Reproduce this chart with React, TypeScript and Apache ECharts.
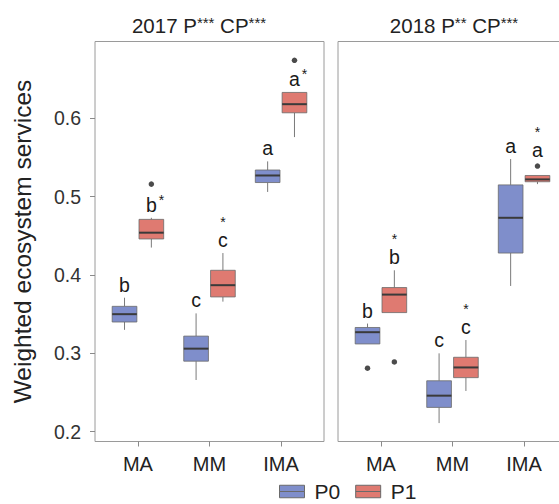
import React, { useEffect, useRef } from 'react';
import * as echarts from 'echarts';

const categories = ['MA', 'MM', 'IMA'];
const groups = ['P0', 'P1'];
const panelTitles = ['2017 P{s|***} CP{s|***}', '2018 P{s|**} CP{s|***}'];
const yAxisTitle = 'Weighted ecosystem services';
const yTicks = [0.2, 0.3, 0.4, 0.5, 0.6];

// [min, Q1, median, Q3, max] per category (MA, MM, IMA)
const box2017P0 = [
  [0.330, 0.340, 0.350, 0.360, 0.371],
  [0.266, 0.290, 0.306, 0.322, 0.351],
  [0.506, 0.518, 0.527, 0.534, 0.545],
];
const box2017P1 = [
  [0.435, 0.446, 0.454, 0.471, 0.473],
  [0.366, 0.372, 0.387, 0.406, 0.428],
  [0.576, 0.607, 0.618, 0.633, 0.633],
];
const box2018P0 = [
  [0.312, 0.312, 0.327, 0.333, 0.338],
  [0.211, 0.231, 0.246, 0.265, 0.300],
  [0.386, 0.428, 0.473, 0.515, 0.548],
];
const box2018P1 = [
  [0.352, 0.352, 0.375, 0.384, 0.406],
  [0.252, 0.269, 0.282, 0.295, 0.317],
  [0.516, 0.519, 0.522, 0.527, 0.527],
];

// outliers: [category, value]
const out2017P0: [string, number][] = [];
const out2017P1: [string, number][] = [['MA', 0.516], ['IMA', 0.674]];
const out2018P0: [string, number][] = [['MA', 0.281]];
const out2018P1: [string, number][] = [['MA', 0.289], ['IMA', 0.539]];

// significance letters and star placement
const letters2017P0 = ['b', 'c', 'a'];
const letters2017P1 = ['b', 'c', 'a'];
const stars2017P0 = ['', '', ''];
const stars2017P1 = ['sup', 'above', 'sup'];
const letters2018P0 = ['b', 'c', 'a'];
const letters2018P1 = ['b', 'c', 'a'];
const stars2018P0 = ['', '', ''];
const stars2018P1 = ['above', 'above', 'above'];

const FONT = '"Liberation Sans", Arial, Helvetica, sans-serif';
const COLORS = ['#7f8ecb', '#df7a71'];
const OFFSET = 0.1875;
const BOX_W = 0.345;
const Y_MIN = 0.1875;
const Y_MAX = 0.698;

const panels = [
  { title: panelTitles[0], boxes: [box2017P0, box2017P1], outs: [out2017P0, out2017P1], letters: [letters2017P0, letters2017P1], stars: [stars2017P0, stars2017P1] },
  { title: panelTitles[1], boxes: [box2018P0, box2018P1], outs: [out2018P0, out2018P1], letters: [letters2018P0, letters2018P1], stars: [stars2018P0, stars2018P1] },
];

function makeRender(offset: number, fill: string, letters: string[], stars: string[], outs: [string, number][]) {
  return (params: any, api: any) => {
    const idx = params.dataIndex;
    const x = api.value(0) + offset;
    const vals = [1, 2, 3, 4, 5].map((d) => api.value(d));
    const pts = vals.map((v) => api.coord([x, v]));
    const cx = pts[0][0];
    const w = api.size([BOX_W, 0])[0];
    const [yMin, yQ1, yMed, yQ3, yMax] = pts.map((p: number[]) => p[1]);
    let anchor = yMax;
    let gap = 13;
    outs
      .filter((o) => o[0] === categories[idx])
      .forEach((o) => {
        const py = api.coord([x, o[1]])[1];
        if (py < yMax && yMax - py < 15) {
          anchor = py;
          gap = 16;
        }
      });
    const ly = anchor - gap;
    const children: any[] = [
      { type: 'line', shape: { x1: cx, y1: yMax, x2: cx, y2: yQ3 }, style: { stroke: '#7a7a7a', lineWidth: 1 } },
      { type: 'line', shape: { x1: cx, y1: yQ1, x2: cx, y2: yMin }, style: { stroke: '#7a7a7a', lineWidth: 1 } },
      { type: 'rect', shape: { x: cx - w / 2, y: yQ3, width: w, height: yQ1 - yQ3 }, style: { fill, stroke: '#6a6a6a', lineWidth: 0.8 } },
      { type: 'line', shape: { x1: cx - w / 2, y1: yMed, x2: cx + w / 2, y2: yMed }, style: { stroke: '#3a3a3a', lineWidth: 2 } },
      { type: 'text', x: cx, y: ly, style: { text: letters[idx], fill: '#1a1a1a', fontSize: 19.5, fontFamily: FONT, align: 'center', verticalAlign: 'middle' } },
    ];
    if (stars[idx] === 'sup') {
      children.push({ type: 'text', x: cx + 10, y: ly - 5, style: { text: '*', fill: '#1a1a1a', fontSize: 14, fontFamily: FONT, align: 'center', verticalAlign: 'middle' } });
    } else if (stars[idx] === 'above') {
      children.push({ type: 'text', x: cx, y: ly - 18, style: { text: '*', fill: '#1a1a1a', fontSize: 14, fontFamily: FONT, align: 'center', verticalAlign: 'middle' } });
    }
    return { type: 'group', children };
  };
}

export default function App() {
  const ref = useRef<HTMLDivElement>(null);
  useEffect(() => {
    if (!ref.current) return;
    const chart = echarts.init(ref.current, undefined, { renderer: 'svg' });
    const grids: any[] = [];
    const xAxes: any[] = [];
    const yAxes: any[] = [];
    const series: any[] = [];
    const graphics: any[] = [];
    const gridLefts = [95, 338];
    const titleX = [199, 454];
    panels.forEach((p, pi) => {
      grids.push({ left: gridLefts[pi], top: 41.5, width: 229, height: 400, show: true, borderColor: '#9a9a9a', borderWidth: 1, backgroundColor: '#fff', containLabel: false, outerBoundsMode: 'none' });
      xAxes.push({
        gridIndex: pi, type: 'value', min: 0.4, max: 3.6,
        axisLine: { show: false }, splitLine: { show: false },
        axisTick: { show: true, customValues: [1, 2, 3], length: 5, lineStyle: { color: '#8a8a8a' } },
        axisLabel: { customValues: [1, 2, 3], formatter: (v: number) => categories[Math.round(v) - 1] || '', fontSize: 20, fontFamily: FONT, color: '#222', margin: 12 },
      });
      yAxes.push({
        gridIndex: pi, type: 'value', min: Y_MIN, max: Y_MAX,
        axisLine: { show: false }, splitLine: { show: false },
        axisTick: { show: pi === 0, customValues: yTicks, length: 5, lineStyle: { color: '#8a8a8a' } },
        axisLabel: { show: pi === 0, customValues: yTicks, formatter: (v: number) => v.toFixed(1), fontSize: 19.5, fontFamily: FONT, color: '#333', margin: 14 },
        name: pi === 0 ? yAxisTitle : '', nameLocation: 'middle', nameGap: 60,
        nameTextStyle: { fontSize: 24.5, fontFamily: FONT, color: '#222' },
      });
      graphics.push({
        type: 'text', x: titleX[pi], y: 25,
        style: {
          text: p.title, fontSize: 20.5, fontFamily: FONT, fill: '#222', align: 'center', verticalAlign: 'middle',
          rich: { s: { fontSize: 15, fontFamily: FONT, fill: '#222', verticalAlign: 'top', lineHeight: 20 } },
        },
      });
      groups.forEach((g, gi) => {
        const offset = gi === 0 ? -OFFSET : OFFSET;
        series.push({
          type: 'custom', name: g, xAxisIndex: pi, yAxisIndex: pi,
          itemStyle: { color: COLORS[gi] },
          data: p.boxes[gi].map((s, ci) => [ci + 1, ...s]),
          encode: { x: 0, y: [1, 2, 3, 4, 5] },
          renderItem: makeRender(offset, COLORS[gi], p.letters[gi], p.stars[gi], p.outs[gi]),
          clip: false,
        });
        if (p.outs[gi].length) {
          series.push({
            type: 'scatter', xAxisIndex: pi, yAxisIndex: pi, symbol: 'circle', symbolSize: 5.5,
            itemStyle: { color: '#1e1e1e' },
            data: p.outs[gi].map((o) => [categories.indexOf(o[0]) + 1 + offset, o[1]]),
          });
        }
      });
    });
    chart.setOption({
      animation: false,
      backgroundColor: '#fff',
      grid: grids,
      xAxis: xAxes,
      yAxis: yAxes,
      series,
      graphic: graphics,
      legend: {
        data: groups, left: 274, top: 476, itemWidth: 25, itemHeight: 14, itemGap: 15,
        icon: 'path://M0,0H24V6H0Z M0,6H24V12H0Z',
        itemStyle: { borderColor: '#6a6a6a', borderWidth: 1 },
        textStyle: { fontSize: 21, fontFamily: FONT, color: '#222', padding: [0, 0, 0, 5], lineHeight: 21 },
      },
    });
    return () => chart.dispose();
  }, []);
  return <div ref={ref} style={{ position: 'fixed', left: 0, top: 0, width: 559, height: 504 }} />;
}
